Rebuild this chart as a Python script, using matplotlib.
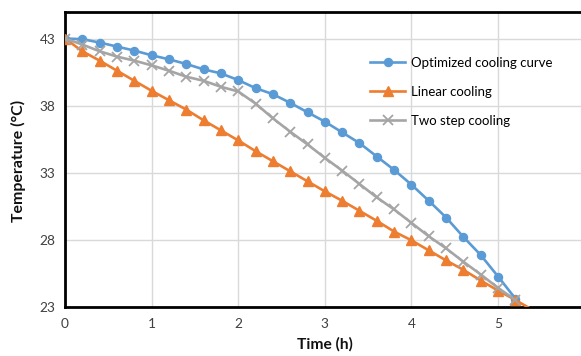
import matplotlib
matplotlib.use("Agg")
import matplotlib.pyplot as plt

plt.rcParams['font.family'] = ['Lato', 'DejaVu Sans']

time_h = [0, 0.2, 0.4, 0.6, 0.8, 1.0, 1.2, 1.4, 1.6, 1.8, 2.0, 2.2, 2.4, 2.6,
          2.8, 3.0, 3.2, 3.4, 3.6, 3.8, 4.0, 4.2, 4.4, 4.6, 4.8, 5.0, 5.2]
optimized = [43.0, 42.95, 42.7, 42.4, 42.1, 41.75, 41.45, 41.1, 40.7, 40.4, 39.9,
             39.3, 38.85, 38.2, 37.5, 36.8, 36.0, 35.2, 34.2, 33.2, 32.1, 30.9,
             29.65, 28.2, 26.85, 25.25, 23.6]
time_lin = time_h + [5.4]
linear = [43.0, 42.05, 41.35, 40.6, 39.85, 39.1, 38.4, 37.7, 36.9, 36.15, 35.4,
          34.6, 33.85, 33.1, 32.35, 31.6, 30.9, 30.15, 29.4, 28.6, 27.95, 27.2,
          26.45, 25.75, 24.95, 24.2, 23.5, 22.75]
two_step = [43.0, 42.55, 42.05, 41.65, 41.35, 41.0, 40.6, 40.15, 39.85, 39.4, 39.05,
            38.15, 37.05, 36.05, 35.1, 34.1, 33.15, 32.15, 31.15, 30.25, 29.25,
            28.25, 27.35, 26.35, 25.4, 24.4, 23.5]

x_ticks = [0, 1, 2, 3, 4, 5, 6]
y_ticks = [23, 28, 33, 38, 43]

W, H = 581, 356
L, R, T, B = 65, 584.7, 11.7, 306.7
fig = plt.figure(figsize=(W / 100, H / 100), dpi=100)
ax = fig.add_axes([L / W, 1 - B / H, (R - L) / W, (B - T) / H])

blue, orange, gray = '#5B9BD5', '#ED7D31', '#A5A5A5'
ax.plot(time_h, optimized, color=blue, lw=1.9, marker='o', ms=5.8,
        label='Optimized cooling curve', zorder=3)
ax.plot(time_lin, linear, color=orange, lw=1.9, marker='^', ms=6.5,
        markevery=slice(0, len(time_lin) - 1),
        label='Linear cooling', zorder=3)
ax.plot(time_h, two_step, color=gray, lw=1.9, marker='x', ms=6.5, mew=1.3,
        label='Two step cooling', zorder=3)

ax.set_xlim(0, 6)
ax.set_ylim(23, 45)
ax.set_xticks(x_ticks)
ax.set_yticks(y_ticks)
ax.grid(True, color='#D9D9D9', lw=1.0, zorder=0)
ax.set_axisbelow(True)
for side in ['left', 'bottom', 'top']:
    ax.spines[side].set_color('black')
    ax.spines[side].set_linewidth(2.0)
ax.spines['right'].set_visible(False)


def fx(px):
    return (px - L) / (R - L)


def fy(py):
    return (B - py) / (B - T)


def fit_width(text, fs0, target, vertical=False):
    text.set_fontsize(fs0)
    fig.canvas.draw()
    bb = text.get_window_extent()
    size = bb.height if vertical else bb.width
    return fs0 * target / size


probe = fig.text(0, 0, '43', fontsize=10)
tick_fs = fit_width(probe, 10, 16.0)
probe.remove()
ax.tick_params(length=0, labelsize=tick_fs, pad=7)
ax.tick_params(axis='x', pad=8)
for lab in ax.get_xticklabels() + ax.get_yticklabels():
    lab.set_color('#404040')

probe = fig.text(0, 0, 'Time (h)', fontsize=10, fontweight='bold')
xl_fs = fit_width(probe, 10, 56)
probe.remove()
probe = fig.text(0, 0, 'Temperature (°C)', fontsize=10, fontweight='bold')
yl_fs = fit_width(probe, 10, 122)
probe.remove()
probe = fig.text(0, 0, 'Optimized cooling curve', fontsize=10)
lg_fs = fit_width(probe, 10, 142)
probe.remove()

ax.set_xlabel('Time (h)', fontsize=xl_fs, fontweight='bold', color='#111111')
ax.xaxis.set_label_coords(fx(325), fy(344))
ax.xaxis.label.set_va('center')
ax.set_ylabel('Temperature (°C)', fontsize=yl_fs, fontweight='bold', color='#111111')
ax.yaxis.set_label_coords(fx(18), fy(161))
ax.yaxis.label.set_va('center')

pt_per_px = 0.72
handle_len = 35 * pt_per_px / lg_fs
row_pitch_pt = 28.3 * pt_per_px
leg = ax.legend(loc='upper left', bbox_to_anchor=(fx(370), fy(57.0)), frameon=False,
                fontsize=lg_fs, handlelength=handle_len,
                labelspacing=(row_pitch_pt - 0.87 * lg_fs) / lg_fs,
                handletextpad=6 * pt_per_px / lg_fs, borderpad=0, borderaxespad=0)

fig.savefig('out.png', dpi=100)
